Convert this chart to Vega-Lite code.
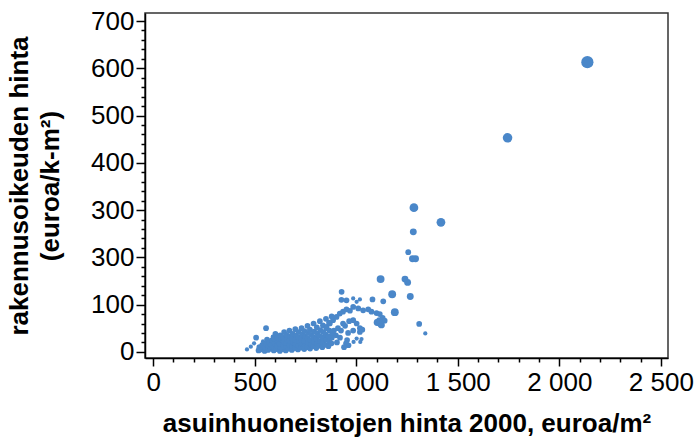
{
  "$schema": "https://vega.github.io/schema/vega-lite/v6.json",
  "width": 523,
  "height": 345,
  "autosize": "none",
  "padding": {"left": 145, "top": 13, "right": 27, "bottom": 84},
  "background": "white",
  "config": {
    "view": {"stroke": "#333333", "strokeWidth": 1.5},
    "font": "Liberation Sans",
    "axis": {
      "grid": false,
      "labelFont": "Liberation Sans",
      "labelFontSize": 26,
      "labelColor": "black",
      "titleFont": "Liberation Sans",
      "titleFontSize": 26,
      "titleFontWeight": "bold",
      "titleColor": "black",
      "domainColor": "black",
      "domainWidth": 1.5,
      "tickColor": "black",
      "tickWidth": 1.5,
      "labelOverlap": false,
      "labelFlush": false
    }
  },
  "data": {
    "values": [
      {"asunto": 2138, "rakoik": 613, "paino": 10},
      {"asunto": 1745, "rakoik": 453, "paino": 6},
      {"asunto": 1284, "rakoik": 305, "paino": 5},
      {"asunto": 1417, "rakoik": 274, "paino": 5},
      {"asunto": 1281, "rakoik": 254, "paino": 3},
      {"asunto": 1256, "rakoik": 211, "paino": 2},
      {"asunto": 1277, "rakoik": 197, "paino": 3},
      {"asunto": 1292, "rakoik": 197, "paino": 3},
      {"asunto": 1240, "rakoik": 154, "paino": 3},
      {"asunto": 1253, "rakoik": 147, "paino": 3},
      {"asunto": 1120, "rakoik": 154, "paino": 4},
      {"asunto": 1177, "rakoik": 122, "paino": 4},
      {"asunto": 1266, "rakoik": 117, "paino": 3},
      {"asunto": 1190, "rakoik": 84, "paino": 4},
      {"asunto": 1103, "rakoik": 62, "paino": 3},
      {"asunto": 1118, "rakoik": 60, "paino": 3},
      {"asunto": 1310, "rakoik": 59, "paino": 2},
      {"asunto": 1340, "rakoik": 39, "paino": 1},
      {"asunto": 1133, "rakoik": 107, "paino": 2},
      {"asunto": 1080, "rakoik": 111, "paino": 2},
      {"asunto": 928, "rakoik": 127, "paino": 2},
      {"asunto": 927, "rakoik": 110, "paino": 2},
      {"asunto": 952, "rakoik": 109, "paino": 2},
      {"asunto": 985, "rakoik": 113, "paino": 1},
      {"asunto": 1002, "rakoik": 106, "paino": 1},
      {"asunto": 1018, "rakoik": 111, "paino": 1},
      {"asunto": 985, "rakoik": 95, "paino": 2},
      {"asunto": 1010, "rakoik": 92, "paino": 2},
      {"asunto": 1034, "rakoik": 88, "paino": 2},
      {"asunto": 1059, "rakoik": 90, "paino": 2},
      {"asunto": 1075, "rakoik": 85, "paino": 2},
      {"asunto": 1100, "rakoik": 82, "paino": 2},
      {"asunto": 1116, "rakoik": 80, "paino": 2},
      {"asunto": 1130, "rakoik": 72, "paino": 2},
      {"asunto": 1140, "rakoik": 66, "paino": 2},
      {"asunto": 919, "rakoik": 81, "paino": 2},
      {"asunto": 935, "rakoik": 85, "paino": 2},
      {"asunto": 952, "rakoik": 90, "paino": 2},
      {"asunto": 969, "rakoik": 87, "paino": 2},
      {"asunto": 886, "rakoik": 67, "paino": 2},
      {"asunto": 903, "rakoik": 74, "paino": 2},
      {"asunto": 870, "rakoik": 60, "paino": 2},
      {"asunto": 854, "rakoik": 53, "paino": 2},
      {"asunto": 985, "rakoik": 67, "paino": 2},
      {"asunto": 1002, "rakoik": 60, "paino": 2},
      {"asunto": 1018, "rakoik": 50, "paino": 2},
      {"asunto": 985, "rakoik": 45, "paino": 2},
      {"asunto": 1018, "rakoik": 42, "paino": 2},
      {"asunto": 1030, "rakoik": 47, "paino": 2},
      {"asunto": 1002, "rakoik": 28, "paino": 1},
      {"asunto": 1026, "rakoik": 27, "paino": 1},
      {"asunto": 1108, "rakoik": 63, "paino": 3},
      {"asunto": 1124, "rakoik": 57, "paino": 3},
      {"asunto": 1113, "rakoik": 67, "paino": 2},
      {"asunto": 955, "rakoik": 25, "paino": 2},
      {"asunto": 962, "rakoik": 14, "paino": 2},
      {"asunto": 950, "rakoik": 18, "paino": 2},
      {"asunto": 987, "rakoik": 21, "paino": 1},
      {"asunto": 1020, "rakoik": 21, "paino": 1},
      {"asunto": 940, "rakoik": 10, "paino": 2},
      {"asunto": 960, "rakoik": 40, "paino": 2},
      {"asunto": 945, "rakoik": 55, "paino": 2},
      {"asunto": 965, "rakoik": 65, "paino": 2},
      {"asunto": 925, "rakoik": 45, "paino": 2},
      {"asunto": 935, "rakoik": 60, "paino": 2},
      {"asunto": 910, "rakoik": 50, "paino": 2},
      {"asunto": 900, "rakoik": 35, "paino": 2},
      {"asunto": 920, "rakoik": 30, "paino": 2},
      {"asunto": 905, "rakoik": 20, "paino": 2},
      {"asunto": 890, "rakoik": 45, "paino": 2},
      {"asunto": 880, "rakoik": 30, "paino": 2},
      {"asunto": 462, "rakoik": 5, "paino": 1},
      {"asunto": 481, "rakoik": 11, "paino": 1},
      {"asunto": 497, "rakoik": 18, "paino": 1},
      {"asunto": 507, "rakoik": 30, "paino": 2},
      {"asunto": 556, "rakoik": 50, "paino": 2},
      {"asunto": 519, "rakoik": 3, "paino": 2},
      {"asunto": 523, "rakoik": 10, "paino": 2},
      {"asunto": 533, "rakoik": 5, "paino": 2},
      {"asunto": 538, "rakoik": 15, "paino": 2},
      {"asunto": 541, "rakoik": 22, "paino": 1},
      {"asunto": 549, "rakoik": 2, "paino": 2},
      {"asunto": 552, "rakoik": 9, "paino": 2},
      {"asunto": 556, "rakoik": 17, "paino": 2},
      {"asunto": 561, "rakoik": 26, "paino": 2},
      {"asunto": 566, "rakoik": 4, "paino": 2},
      {"asunto": 569, "rakoik": 12, "paino": 2},
      {"asunto": 572, "rakoik": 20, "paino": 2},
      {"asunto": 578, "rakoik": 7, "paino": 2},
      {"asunto": 583, "rakoik": 14, "paino": 2},
      {"asunto": 586, "rakoik": 25, "paino": 2},
      {"asunto": 589, "rakoik": 32, "paino": 1},
      {"asunto": 594, "rakoik": 3, "paino": 2},
      {"asunto": 597, "rakoik": 10, "paino": 2},
      {"asunto": 599, "rakoik": 18, "paino": 2},
      {"asunto": 596, "rakoik": 28, "paino": 2},
      {"asunto": 602, "rakoik": 38, "paino": 2},
      {"asunto": 608, "rakoik": 6, "paino": 2},
      {"asunto": 611, "rakoik": 13, "paino": 2},
      {"asunto": 614, "rakoik": 22, "paino": 2},
      {"asunto": 612, "rakoik": 30, "paino": 2},
      {"asunto": 624, "rakoik": 2, "paino": 2},
      {"asunto": 627, "rakoik": 9, "paino": 2},
      {"asunto": 623, "rakoik": 17, "paino": 2},
      {"asunto": 629, "rakoik": 26, "paino": 2},
      {"asunto": 626, "rakoik": 35, "paino": 2},
      {"asunto": 638, "rakoik": 6, "paino": 2},
      {"asunto": 641, "rakoik": 14, "paino": 2},
      {"asunto": 643, "rakoik": 22, "paino": 2},
      {"asunto": 639, "rakoik": 31, "paino": 2},
      {"asunto": 645, "rakoik": 42, "paino": 2},
      {"asunto": 653, "rakoik": 3, "paino": 2},
      {"asunto": 657, "rakoik": 11, "paino": 2},
      {"asunto": 654, "rakoik": 19, "paino": 2},
      {"asunto": 659, "rakoik": 27, "paino": 2},
      {"asunto": 656, "rakoik": 36, "paino": 2},
      {"asunto": 668, "rakoik": 7, "paino": 2},
      {"asunto": 672, "rakoik": 15, "paino": 2},
      {"asunto": 669, "rakoik": 24, "paino": 2},
      {"asunto": 674, "rakoik": 33, "paino": 2},
      {"asunto": 671, "rakoik": 45, "paino": 2},
      {"asunto": 683, "rakoik": 4, "paino": 2},
      {"asunto": 686, "rakoik": 12, "paino": 2},
      {"asunto": 688, "rakoik": 20, "paino": 2},
      {"asunto": 684, "rakoik": 29, "paino": 2},
      {"asunto": 687, "rakoik": 38, "paino": 2},
      {"asunto": 698, "rakoik": 8, "paino": 2},
      {"asunto": 702, "rakoik": 16, "paino": 2},
      {"asunto": 699, "rakoik": 25, "paino": 2},
      {"asunto": 703, "rakoik": 35, "paino": 2},
      {"asunto": 700, "rakoik": 48, "paino": 2},
      {"asunto": 713, "rakoik": 5, "paino": 2},
      {"asunto": 716, "rakoik": 13, "paino": 2},
      {"asunto": 718, "rakoik": 22, "paino": 2},
      {"asunto": 714, "rakoik": 31, "paino": 2},
      {"asunto": 717, "rakoik": 42, "paino": 2},
      {"asunto": 728, "rakoik": 9, "paino": 2},
      {"asunto": 732, "rakoik": 18, "paino": 2},
      {"asunto": 729, "rakoik": 27, "paino": 2},
      {"asunto": 734, "rakoik": 37, "paino": 2},
      {"asunto": 731, "rakoik": 50, "paino": 2},
      {"asunto": 744, "rakoik": 6, "paino": 2},
      {"asunto": 747, "rakoik": 14, "paino": 2},
      {"asunto": 742, "rakoik": 23, "paino": 2},
      {"asunto": 748, "rakoik": 33, "paino": 2},
      {"asunto": 745, "rakoik": 44, "paino": 2},
      {"asunto": 758, "rakoik": 10, "paino": 2},
      {"asunto": 762, "rakoik": 19, "paino": 2},
      {"asunto": 759, "rakoik": 29, "paino": 2},
      {"asunto": 763, "rakoik": 40, "paino": 2},
      {"asunto": 760, "rakoik": 55, "paino": 2},
      {"asunto": 773, "rakoik": 7, "paino": 2},
      {"asunto": 777, "rakoik": 16, "paino": 2},
      {"asunto": 775, "rakoik": 25, "paino": 2},
      {"asunto": 778, "rakoik": 36, "paino": 2},
      {"asunto": 772, "rakoik": 47, "paino": 2},
      {"asunto": 788, "rakoik": 12, "paino": 2},
      {"asunto": 792, "rakoik": 21, "paino": 2},
      {"asunto": 789, "rakoik": 31, "paino": 2},
      {"asunto": 793, "rakoik": 43, "paino": 2},
      {"asunto": 790, "rakoik": 60, "paino": 2},
      {"asunto": 803, "rakoik": 8, "paino": 2},
      {"asunto": 807, "rakoik": 18, "paino": 2},
      {"asunto": 804, "rakoik": 28, "paino": 2},
      {"asunto": 808, "rakoik": 39, "paino": 2},
      {"asunto": 806, "rakoik": 52, "paino": 2},
      {"asunto": 818, "rakoik": 13, "paino": 2},
      {"asunto": 822, "rakoik": 23, "paino": 2},
      {"asunto": 819, "rakoik": 34, "paino": 2},
      {"asunto": 823, "rakoik": 46, "paino": 2},
      {"asunto": 821, "rakoik": 65, "paino": 2},
      {"asunto": 833, "rakoik": 10, "paino": 2},
      {"asunto": 837, "rakoik": 20, "paino": 2},
      {"asunto": 834, "rakoik": 30, "paino": 2},
      {"asunto": 838, "rakoik": 42, "paino": 2},
      {"asunto": 836, "rakoik": 56, "paino": 2},
      {"asunto": 848, "rakoik": 15, "paino": 2},
      {"asunto": 852, "rakoik": 26, "paino": 2},
      {"asunto": 849, "rakoik": 37, "paino": 2},
      {"asunto": 853, "rakoik": 50, "paino": 2},
      {"asunto": 851, "rakoik": 70, "paino": 2},
      {"asunto": 863, "rakoik": 12, "paino": 2},
      {"asunto": 867, "rakoik": 22, "paino": 2},
      {"asunto": 864, "rakoik": 33, "paino": 2},
      {"asunto": 868, "rakoik": 45, "paino": 2},
      {"asunto": 866, "rakoik": 62, "paino": 2},
      {"asunto": 878, "rakoik": 18, "paino": 2},
      {"asunto": 882, "rakoik": 40, "paino": 2},
      {"asunto": 879, "rakoik": 75, "paino": 2}
    ]
  },
  "mark": {"type": "circle", "opacity": 1, "color": "#4a87c9"},
  "encoding": {
    "x": {
      "field": "asunto",
      "type": "quantitative",
      "scale": {"domain": [-40, 2535], "nice": false, "zero": false},
      "axis": {
        "title": "asuinhuoneistojen hinta 2000, euroa/m²",
        "values": [0, 100, 200, 300, 400, 500, 600, 700, 800, 900, 1000, 1100, 1200, 1300, 1400, 1500, 1600, 1700, 1800, 1900, 2000, 2100, 2200, 2300, 2400, 2500],
        "labelExpr": "datum.value % 500 === 0 ? replace(format(datum.value, ','), ',', ' ') : ''",
        "tickSize": {"condition": {"test": "datum.value % 500 === 0", "value": 8}, "value": 4},
        "labelPadding": 3,
        "titlePadding": 15
      }
    },
    "y": {
      "field": "rakoik",
      "type": "quantitative",
      "scale": {"domain": [-13, 717], "nice": false, "zero": false},
      "axis": {
        "title": ["rakennusoikeuden hinta", "(euroa/k-m²)"],
        "titleLineHeight": 31,
        "values": [0, 20, 40, 60, 80, 100, 120, 140, 160, 180, 200, 220, 240, 260, 280, 300, 320, 340, 360, 380, 400, 420, 440, 460, 480, 500, 520, 540, 560, 580, 600, 620, 640, 660, 680, 700],
        "labelExpr": "datum.value % 100 === 0 ? (datum.value === 200 ? '300' : datum.label) : ''",
        "tickSize": {"condition": {"test": "datum.value % 100 === 0", "value": 9}, "value": 4},
        "labelPadding": 2,
        "titlePadding": 27
      }
    },
    "size": {
      "field": "paino",
      "type": "quantitative",
      "scale": {"domain": [1, 10], "range": [18, 150]},
      "legend": null
    }
  }
}
